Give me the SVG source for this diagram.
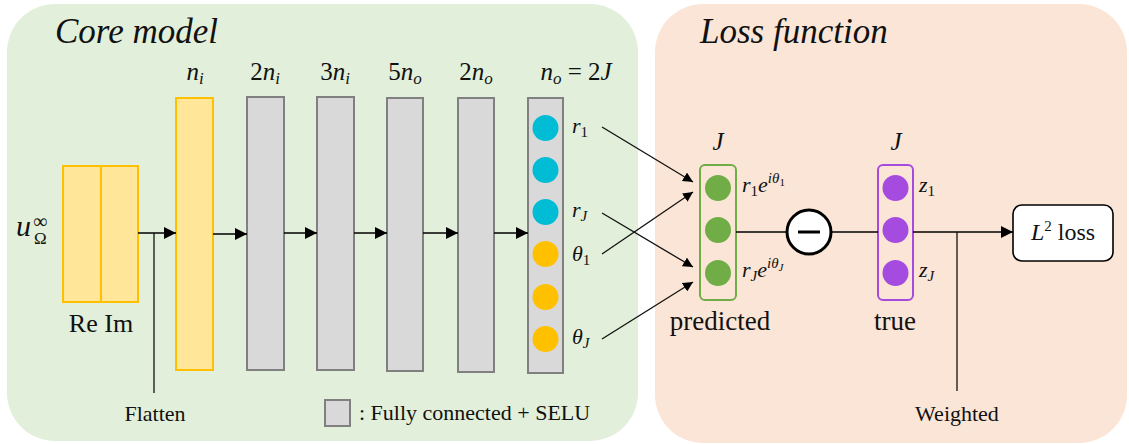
<svg xmlns="http://www.w3.org/2000/svg" width="1129" height="444" viewBox="0 0 1129 444">
<style>
.lb{font-family:'Liberation Serif',serif !important;fill:#111}
.i{font-style:italic}
.gold{fill:#FFE699;stroke:#FFC000;stroke-width:2}
.gray{fill:#D9D9D9;stroke:#808080;stroke-width:2}
.ln{stroke:#111;stroke-width:1.3;fill:none}
.ar{stroke:#000;stroke-width:1.6;fill:none}
.cy{fill:#00BCD4}
.or{fill:#FFC000}
.gr{fill:#70AD47}
.pu{fill:#A64BE0}
</style>
<defs>
<marker id="ah" viewBox="0 0 10 10" refX="10" refY="5" markerWidth="10" markerHeight="10" markerUnits="userSpaceOnUse" orient="auto">
<path d="M0,0 L10,5 L0,10 z" fill="#000"/>
</marker>
<marker id="ah2" viewBox="0 0 10 10" refX="10" refY="5" markerWidth="12" markerHeight="12" markerUnits="userSpaceOnUse" orient="auto">
<path d="M0,0 L10,5 L0,10 z" fill="#000"/>
</marker>
</defs>

<g id="panel-core">
<rect x="7" y="4" width="631" height="437" rx="48" fill="#E2EFDA"/>
<text class="lb i" style="font-family:'Liberation Serif',serif" x="55" y="43" font-size="35">Core model</text>
</g>
<g id="panel-loss">
<rect x="655" y="4" width="472" height="439" rx="48" fill="#FBE5D6"/>
<text class="lb i" style="font-family:'Liberation Serif',serif" x="700" y="43" font-size="35">Loss function</text>
</g>

<g id="input">
<rect class="gold" x="63" y="166" width="38" height="136"/>
<rect class="gold" x="101" y="166" width="37" height="136"/>
<text class="lb" style="font-family:'Liberation Serif',serif" x="101" y="332" font-size="26" text-anchor="middle">Re Im</text>
<text class="lb" style="font-family:'Liberation Serif',serif" x="16" y="236" font-size="30"><tspan class="i">u</tspan><tspan x="33" dy="-8" font-size="20">∞</tspan><tspan x="34" dy="16" font-size="17">Ω</tspan></text>
</g>

<g id="layer-ni">
<rect class="gold" x="176" y="98" width="37" height="272"/>
<text class="lb" style="font-family:'Liberation Serif',serif" x="195" y="80" font-size="25" text-anchor="middle"><tspan class="i">n</tspan><tspan class="i" font-size="17" dy="4">i</tspan></text>
</g>
<g id="layer-2ni">
<rect class="gray" x="247" y="97" width="37" height="273"/>
<text class="lb" style="font-family:'Liberation Serif',serif" x="265" y="80" font-size="25" text-anchor="middle">2<tspan class="i">n</tspan><tspan class="i" font-size="17" dy="4">i</tspan></text>
</g>
<g id="layer-3ni">
<rect class="gray" x="317" y="97" width="37" height="273"/>
<text class="lb" style="font-family:'Liberation Serif',serif" x="335" y="80" font-size="25" text-anchor="middle">3<tspan class="i">n</tspan><tspan class="i" font-size="17" dy="4">i</tspan></text>
</g>
<g id="layer-5no">
<rect class="gray" x="387" y="98" width="36" height="273"/>
<text class="lb" style="font-family:'Liberation Serif',serif" x="405" y="80" font-size="25" text-anchor="middle">5<tspan class="i">n</tspan><tspan class="i" font-size="17" dy="4">o</tspan></text>
</g>
<g id="layer-2no">
<rect class="gray" x="458" y="98" width="36" height="274"/>
<text class="lb" style="font-family:'Liberation Serif',serif" x="476" y="80" font-size="25" text-anchor="middle">2<tspan class="i">n</tspan><tspan class="i" font-size="17" dy="4">o</tspan></text>
</g>
<g id="layer-out">
<rect class="gray" x="528" y="98" width="35" height="275"/>
<text class="lb" style="font-family:'Liberation Serif',serif" x="576" y="80" font-size="25" text-anchor="middle"><tspan class="i">n</tspan><tspan class="i" font-size="17" dy="4">o</tspan><tspan dy="-4"> = 2</tspan><tspan class="i">J</tspan></text>
<circle class="cy" cx="545.5" cy="128" r="13"/>
<circle class="cy" cx="545.5" cy="170" r="13"/>
<circle class="cy" cx="545.5" cy="212" r="13"/>
<circle class="or" cx="545.5" cy="254" r="13"/>
<circle class="or" cx="545.5" cy="297" r="13"/>
<circle class="or" cx="545.5" cy="339" r="13"/>
<text class="lb" style="font-family:'Liberation Serif',serif" x="572" y="133" font-size="22"><tspan class="i">r</tspan><tspan font-size="15" dy="4">1</tspan></text>
<text class="lb" style="font-family:'Liberation Serif',serif" x="572" y="217" font-size="22"><tspan class="i">r</tspan><tspan class="i" font-size="15" dy="4">J</tspan></text>
<text class="lb" style="font-family:'Liberation Serif',serif" x="572" y="261" font-size="22"><tspan class="i">θ</tspan><tspan font-size="15" dy="4">1</tspan></text>
<text class="lb" style="font-family:'Liberation Serif',serif" x="572" y="344" font-size="22"><tspan class="i">θ</tspan><tspan class="i" font-size="15" dy="4">J</tspan></text>
</g>

<g id="predicted">
<rect x="700" y="165" width="36" height="135" rx="5" fill="none" stroke="#70AD47" stroke-width="2"/>
<circle class="gr" cx="718" cy="188" r="13"/>
<circle class="gr" cx="718" cy="230" r="13"/>
<circle class="gr" cx="718" cy="273" r="13"/>
<text class="lb i" style="font-family:'Liberation Serif',serif" x="718" y="150" font-size="25" text-anchor="middle">J</text>
<text class="lb" style="font-family:'Liberation Serif',serif" x="720" y="330" font-size="27" text-anchor="middle">predicted</text>
<text class="lb" style="font-family:'Liberation Serif',serif" x="742" y="192" font-size="22"><tspan class="i">r</tspan><tspan font-size="15" dy="4">1</tspan><tspan class="i" dy="-4">e</tspan><tspan class="i" font-size="15" dy="-9">iθ</tspan><tspan font-size="11" dy="3">1</tspan></text>
<text class="lb" style="font-family:'Liberation Serif',serif" x="742" y="277" font-size="22"><tspan class="i">r</tspan><tspan class="i" font-size="15" dy="4">J</tspan><tspan class="i" dy="-4">e</tspan><tspan class="i" font-size="15" dy="-9">iθ</tspan><tspan class="i" font-size="11" dy="3">J</tspan></text>
</g>

<g id="minus">
<circle cx="809" cy="232" r="22" fill="#fff" stroke="#000" stroke-width="3"/>
<line x1="798" y1="232" x2="820" y2="232" stroke="#000" stroke-width="3"/>
</g>

<g id="true">
<rect x="878" y="165" width="35" height="135" rx="5" fill="none" stroke="#A64BE0" stroke-width="2"/>
<circle class="pu" cx="895.5" cy="188" r="13"/>
<circle class="pu" cx="895.5" cy="230" r="13"/>
<circle class="pu" cx="895.5" cy="273" r="13"/>
<text class="lb i" style="font-family:'Liberation Serif',serif" x="896" y="150" font-size="25" text-anchor="middle">J</text>
<text class="lb" style="font-family:'Liberation Serif',serif" x="895" y="330" font-size="27" text-anchor="middle">true</text>
<text class="lb" style="font-family:'Liberation Serif',serif" x="919" y="192" font-size="22"><tspan class="i">z</tspan><tspan font-size="15" dy="4">1</tspan></text>
<text class="lb" style="font-family:'Liberation Serif',serif" x="919" y="277" font-size="22"><tspan class="i">z</tspan><tspan class="i" font-size="15" dy="4">J</tspan></text>
</g>

<g id="l2loss">
<rect x="1013" y="205" width="100" height="56" rx="9" fill="#fff" stroke="#000" stroke-width="1.6"/>
<text class="lb" style="font-family:'Liberation Serif',serif" x="1063" y="240" font-size="24" text-anchor="middle"><tspan class="i">L</tspan><tspan font-size="15" dy="-9">2</tspan><tspan dy="9"> loss</tspan></text>
</g>

<g id="legend">
<rect class="gray" x="325" y="400" width="25" height="26" stroke-width="2.5"/>
<text class="lb" style="font-family:'Liberation Serif',serif" x="359" y="420" font-size="22">: Fully connected + SELU</text>
</g>

<g id="connectors">
<line class="ar" x1="138" y1="233" x2="176" y2="233" marker-end="url(#ah2)"/>
<line class="ar" x1="213" y1="234" x2="247" y2="234" marker-end="url(#ah2)"/>
<line class="ar" x1="284" y1="233" x2="317" y2="233" marker-end="url(#ah2)"/>
<line class="ar" x1="354" y1="233" x2="387" y2="233" marker-end="url(#ah2)"/>
<line class="ar" x1="423" y1="233" x2="458" y2="233" marker-end="url(#ah2)"/>
<line class="ar" x1="494" y1="233" x2="528" y2="233" marker-end="url(#ah2)"/>
<line class="ln" x1="154" y1="233" x2="154" y2="393"/>
<text class="lb" style="font-family:'Liberation Serif',serif" x="155" y="421" font-size="22" text-anchor="middle">Flatten</text>
<line class="ln" x1="602" y1="127" x2="693" y2="182" marker-end="url(#ah)"/>
<line class="ln" x1="602" y1="213" x2="693" y2="267" marker-end="url(#ah)"/>
<line class="ln" x1="602" y1="254" x2="693" y2="192" marker-end="url(#ah)"/>
<line class="ln" x1="602" y1="339" x2="693" y2="282" marker-end="url(#ah)"/>
<line class="ar" x1="736" y1="232" x2="787" y2="232"/>
<line class="ar" x1="831" y1="232" x2="878" y2="232"/>
<line class="ar" x1="913" y1="232" x2="1013" y2="232" marker-end="url(#ah2)"/>
<line class="ln" x1="957" y1="232" x2="957" y2="391"/>
<text class="lb" style="font-family:'Liberation Serif',serif" x="957" y="421" font-size="22" text-anchor="middle">Weighted</text>
</g>
</svg>
